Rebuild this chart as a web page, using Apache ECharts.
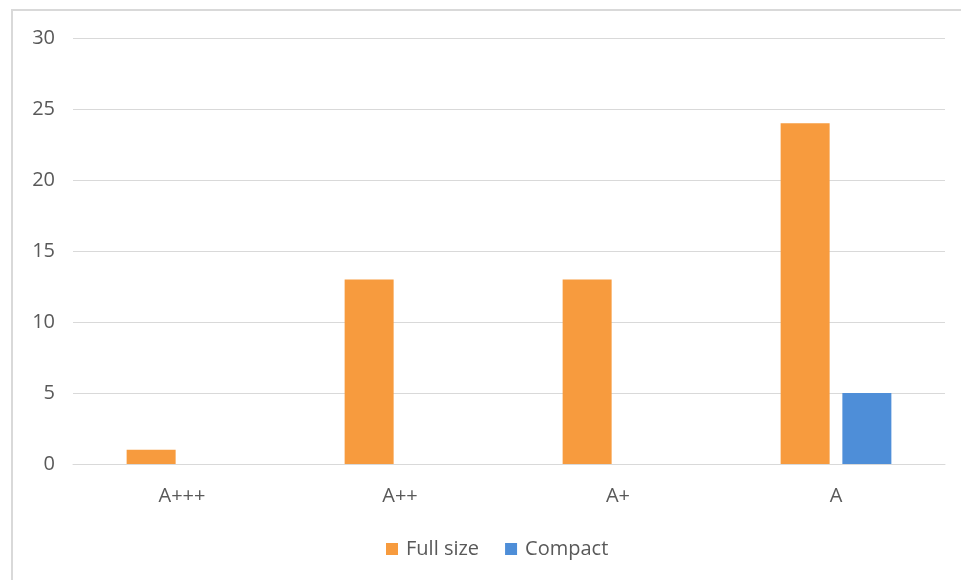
<!DOCTYPE html>
<html>
<head>
<meta charset="utf-8">
<script src="https://cdn.jsdelivr.net/npm/echarts@6/dist/echarts.min.js"></script>
<style>
  html, body { margin: 0; padding: 0; background: #fff; }
  #frame { position: absolute; left: 11px; top: 9px; width: 960px; height: 580px; border-left: 2px solid #d9d9d9; border-top: 2px solid #d9d9d9; box-sizing: border-box; }
  #chart { position: absolute; left: 0; top: 0; width: 961px; height: 580px; }
</style>
</head>
<body>
<div id="frame"></div>
<div id="chart"></div>
<script>
const categories = ["A+++", "A++", "A+", "A"];
const fullSize = [1, 13, 13, 24];
const compact = [0, 0, 0, 5];
const seriesNames = ["Full size", "Compact"];

const textColor = "#595959";
const fontFamily = "'Open Sans', 'Noto Sans', sans-serif";

const chart = echarts.init(document.getElementById("chart"));
chart.setOption({
  animation: false,
  backgroundColor: "transparent",
  textStyle: { fontFamily },
  legend: {
    data: seriesNames,
    bottom: 16,
    left: 381,
    itemWidth: 12,
    itemHeight: 12,
    itemGap: 26,
    icon: "rect",
    textStyle: { color: textColor, fontSize: 20, fontFamily, padding: [0, 0, 0, 3] }
  },
  grid: { left: 73, right: 16, top: 38, bottom: 116, containLabel: false },
  xAxis: {
    type: "category",
    data: categories,
    axisLine: { show: true, lineStyle: { color: "#d9d9d9", width: 1 } },
    axisTick: { show: false },
    axisLabel: { color: textColor, fontSize: 20, margin: 22, fontFamily }
  },
  yAxis: {
    type: "value",
    min: 0,
    max: 30,
    interval: 5,
    axisLine: { show: false },
    axisTick: { show: false },
    axisLabel: { color: textColor, fontSize: 20, margin: 18, fontFamily },
    splitLine: { lineStyle: { color: "#d9d9d9", width: 1 } }
  },
  series: [
    {
      name: seriesNames[0],
      type: "bar",
      data: fullSize,
      barWidth: 49,
      barGap: "26%",
      itemStyle: { color: "#f79b3e" }
    },
    {
      name: seriesNames[1],
      type: "bar",
      data: compact,
      barWidth: 49,
      itemStyle: { color: "#4e8ed8" }
    }
  ]
});
</script>
</body>
</html>
